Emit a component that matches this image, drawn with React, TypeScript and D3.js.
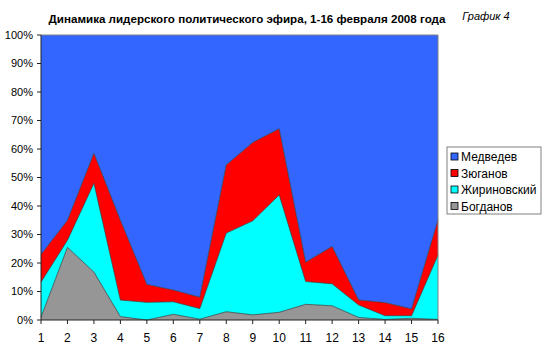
import React from "react";
import * as d3 from "d3";

const days = [1, 2, 3, 4, 5, 6, 7, 8, 9, 10, 11, 12, 13, 14, 15, 16];
const bogdanov = [1, 25.5, 16.8, 1.2, 0, 2, 0.3, 2.9, 1.8, 2.7, 5.5, 5, 0.9, 0.2, 0.6, 0.2];
const zhirinovsky = [12.3, 2.5, 31.2, 5.8, 6.2, 4.4, 3.7, 27.6, 33, 41.2, 8, 7.7, 4.4, 1.3, 0.9, 22.6];
const zyuganov = [9.7, 7, 10.5, 28, 6.3, 4.1, 4, 23.9, 27.5, 23.2, 6.8, 13.1, 1.7, 4.6, 2.4, 12.3];
const medvedev = [77, 65, 41.5, 65, 87.5, 89.5, 92, 45.6, 37.7, 32.9, 79.7, 74.2, 93, 93.9, 96.1, 64.9];
const yTicks = [0, 0.1, 0.2, 0.3, 0.4, 0.5, 0.6, 0.7, 0.8, 0.9, 1];

const seriesNames = ["Богданов", "Жириновский", "Зюганов", "Медведев"];
const seriesData = [bogdanov, zhirinovsky, zyuganov, medvedev];
const colors = ["#969696", "#00FFFF", "#FF0000", "#3366FF"];
const legendOrder = [3, 2, 1, 0];

export default function App() {
  const left = 41, right = 438, top = 35, bottom = 320;
  const x = d3.scaleLinear().domain([1, 16]).range([left, right]);
  const y = d3.scaleLinear().domain([0, 1]).range([bottom, top]);

  const rows = days.map((d, i) => {
    const r: any = { day: d };
    seriesNames.forEach((n, k) => (r[n] = seriesData[k][i]));
    return r;
  });
  const stack = d3.stack<any>().keys(seriesNames).offset(d3.stackOffsetExpand);
  const stacked = stack(rows);
  const area = d3
    .area<any>()
    .x((d) => x(d.data.day))
    .y0((d) => y(d[0]))
    .y1((d) => y(d[1]));
  const line = d3
    .line<any>()
    .x((d) => x(d.data.day))
    .y((d) => y(d[1]));

  const font = "Arial, 'Liberation Sans', sans-serif";

  return (
    <svg
      width={550}
      height={356}
      style={{ position: "absolute", left: 0, top: 0, background: "#fff" }}
      fontFamily={font}
    >
      <rect x={0} y={0} width={550} height={356} fill="#fff" />
      {stacked.map((s, k) => (
        <path key={k} d={area(s) || ""} fill={colors[k]} />
      ))}
      {stacked.slice(0, 3).map((s, k) => (
        <path key={"l" + k} d={line(s) || ""} fill="none" stroke="#333" strokeWidth={0.7} />
      ))}
      <line x1={left} y1={top} x2={right} y2={top} stroke="#808080" strokeWidth={1} />
      <line x1={right} y1={top} x2={right} y2={bottom} stroke="#808080" strokeWidth={1} />
      <line x1={left} y1={top} x2={left} y2={bottom} stroke="#222" strokeWidth={1} />
      {yTicks.map((t) => (
        <g key={t}>
          <line x1={left - 4} x2={left} y1={y(t)} y2={y(t)} stroke="#222" />
          <text x={33} y={y(t)} dy="0.35em" textAnchor="end" fontSize={11} fill="#000">
            {Math.round(t * 100) + "%"}
          </text>
        </g>
      ))}
      <line x1={left} y1={bottom} x2={right} y2={bottom} stroke="#222" strokeWidth={1} />
      {days.map((d) => (
        <g key={d}>
          <line x1={x(d)} x2={x(d)} y1={bottom} y2={bottom + 4} stroke="#222" />
          <text x={x(d)} y={338} dy="0.35em" textAnchor="middle" fontSize={12} fill="#000">
            {d}
          </text>
        </g>
      ))}
      <text x={247} y={19} dy="0.35em" textAnchor="middle" fontSize={11.6} fontWeight="bold" fill="#000">
        Динамика лидерского политического эфира, 1-16 февраля 2008 года
      </text>
      <text x={486} y={16} dy="0.35em" textAnchor="middle" fontSize={11} fontStyle="italic" fill="#000">
        График 4
      </text>
      <rect x={447} y={147} width={94} height={67} fill="#fff" stroke="#808080" />
      {legendOrder.map((k, i) => (
        <g key={k}>
          <rect x={451} y={153 + i * 16.5} width={7} height={7} fill={colors[k]} stroke="#000" strokeWidth={0.8} />
          <text x={461} y={157 + i * 16.5} dy="0.35em" fontSize={12} fill="#000">
            {seriesNames[k]}
          </text>
        </g>
      ))}
    </svg>
  );
}
